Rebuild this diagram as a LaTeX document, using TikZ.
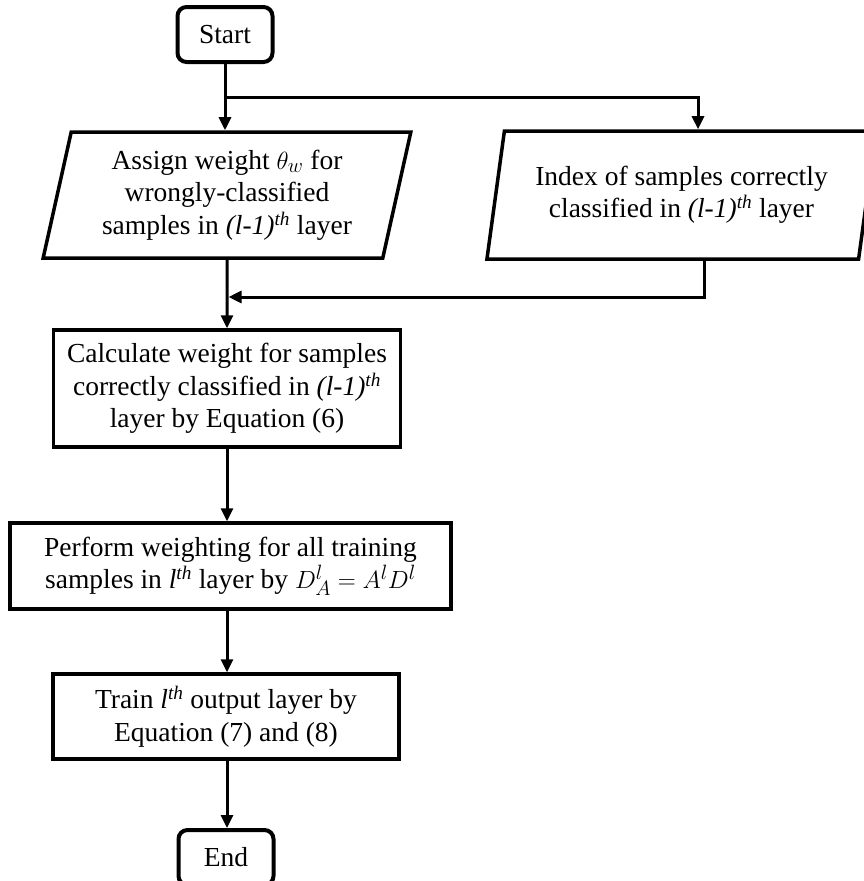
\documentclass[tikz,border=0pt]{standalone}
\usepackage{fontspec}
\setmainfont{Liberation Serif}
\usetikzlibrary{arrows.meta,shapes.geometric,calc}

\tikzset{
  term/.style={draw, rounded corners=9pt, line width=4pt, minimum width=95pt, minimum height=55pt, inner sep=0pt},
  proc/.style={draw, line width=3.5pt, align=center, inner sep=0pt},
  io/.style={draw, trapezium, trapezium left angle=76, trapezium right angle=104, trapezium stretches=true, line width=3.5pt, align=center, inner sep=0pt},
  arr/.style={line width=3pt, -{Triangle[length=13pt,width=12pt]}},
}
\newcommand{\lth}[1]{\textit{#1}\textsuperscript{\textit{th}}}

\begin{document}
\begin{tikzpicture}[x=1pt,y=-1pt,font=\fontsize{27.5}{32.5}\selectfont]
      \useasboundingbox (0,0) rectangle (864,881);
      \node[term] (start) at (225,34.5) {Start};
      \node[io, minimum width=368pt, minimum height=126pt] (assign) at (227,195)
        {Assign weight $\theta_w$ for\\wrongly-classified\\samples in \lth{(l-1)} layer};
      \node[io, minimum width=391pt, minimum height=128pt] (index) at (681.5,195)
        {Index of samples correctly\\classified in \lth{(l-1)} layer};
      \node[proc, minimum width=347pt, minimum height=117pt] (calc) at (227,388.5)
        {Calculate weight for samples\\correctly classified in \lth{(l-1)}\\layer by Equation (6)};
      \node[proc, minimum width=441pt, minimum height=86pt] (perform) at (230.5,566)
        {Perform weighting for all training\\samples in \lth{l} layer by $D_A^l=A^lD^l$};
      \node[proc, minimum width=346pt, minimum height=85pt] (train) at (226,716.5)
        {Train \lth{l} output layer by\\Equation (7) and (8)};
      \node[term] (end) at (226,857.5) {End};
      \coordinate (split) at (225,97);
      \coordinate (merge) at (704,297);
      \draw[arr] (start) -- (start |- assign.north);
      \draw[arr] (split) -| ($(index.north)+(16.5,0)$);
      \draw[arr] (assign.south) -- (calc.north);
      \draw[arr] ($(index.south)+(22.5,0)$) |- ($(assign.south |- merge)+(1.5,0)$);
      \draw[arr] (calc.south) -- (calc.south |- perform.north);
      \draw[arr] (calc.south |- perform.south) -- (train.north -| calc.south);
      \draw[arr] (calc.south |- train.south) -- (end.north -| calc.south);
    \end{tikzpicture}
\end{document}
